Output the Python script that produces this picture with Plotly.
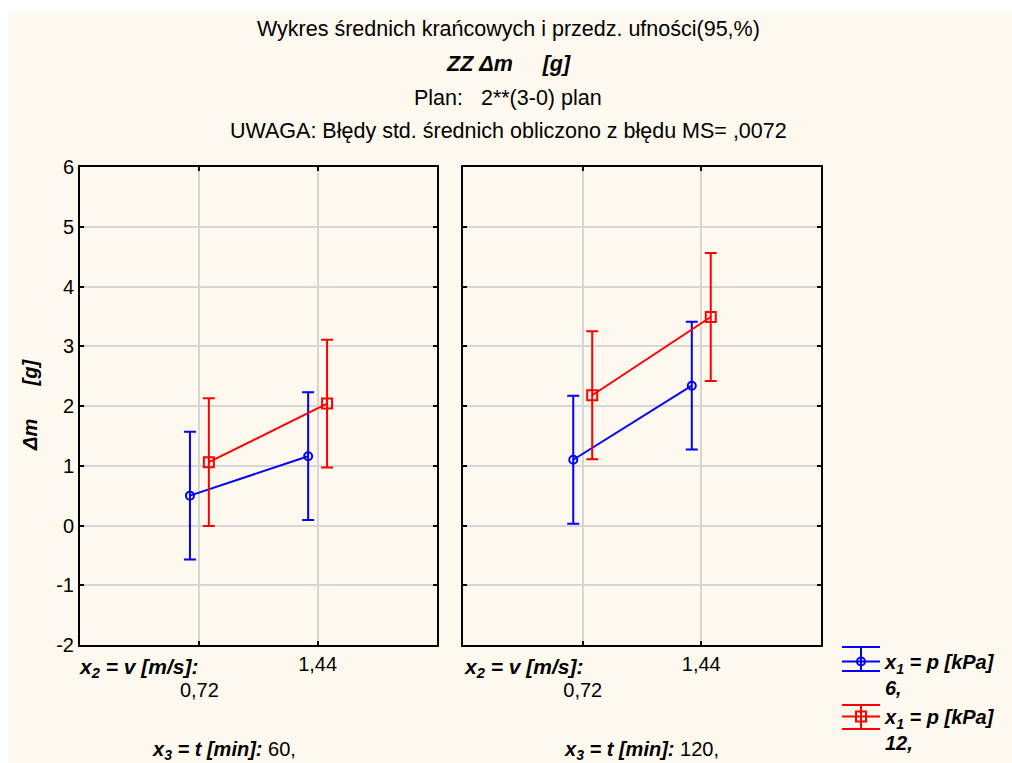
import plotly.graph_objects as go

# =============================================================================
# DATA
# =============================================================================

v_labels = ["0,72", "1,44"]          # x2 = v [m/s]
t_levels = ["60,", "120,"]           # x3 = t [min]
p_levels = ["6,", "12,"]             # x1 = p [kPa]
y_ticks = [-2, -1, 0, 1, 2, 3, 4, 5, 6]

# means of delta m [g] per panel (t = 60 / t = 120)
mean_p6_t60 = [0.50, 1.16]
mean_p12_t60 = [1.06, 2.04]
mean_p6_t120 = [1.10, 2.34]
mean_p12_t120 = [2.18, 3.49]

# half width of 95% confidence interval
ci_p6 = [1.07, 1.07]
ci_p12 = [1.07, 1.07]

# =============================================================================
# LAYOUT HELPERS
# =============================================================================

W, H = 1012, 763
FONT = "Arial, Liberation Sans, sans-serif"
CREAM = "#FEF9EE"
BLUE = "#0000FF"
RED = "#FF0000"
NB = "\u00a0"


def px(x):
    return x / W


def py(y):
    return 1 - y / H


fig = go.Figure()

idx = list(range(len(v_labels)))
dodge = 0.08

panels = [
    ("x", "y", mean_p6_t60, mean_p12_t60, True),
    ("x2", "y2", mean_p6_t120, mean_p12_t120, False),
]
for xa, ya, m6, m12, show in panels:
    fig.add_trace(go.Scatter(
        x=[i - dodge for i in idx], y=m6, xaxis=xa, yaxis=ya,
        mode="lines+markers",
        name="<b><i>x<sub>1</sub> = p [kPa]<br>" + p_levels[0] + "</i></b>",
        line=dict(color=BLUE, width=2),
        marker=dict(symbol="circle-open", size=8, color=BLUE, line=dict(width=2)),
        error_y=dict(type="data", array=ci_p6, color=BLUE, thickness=2, width=6),
        showlegend=show, legendgroup="p6",
    ))
    fig.add_trace(go.Scatter(
        x=[i + dodge for i in idx], y=m12, xaxis=xa, yaxis=ya,
        mode="lines+markers",
        name="<b><i>x<sub>1</sub> = p [kPa]<br>" + p_levels[1] + "</i></b>",
        line=dict(color=RED, width=2),
        marker=dict(symbol="square-open", size=10, color=RED, line=dict(width=2)),
        error_y=dict(type="data", array=ci_p12, color=RED, thickness=2, width=6),
        showlegend=show, legendgroup="p12",
    ))

axis_common = dict(
    showline=True, linecolor="black", linewidth=2, mirror="ticks",
    showgrid=True, gridcolor="#D6D6D6", gridwidth=2,
    ticks="inside", ticklen=4, tickwidth=2, tickcolor="black",
    zeroline=False, automargin=False,
)
xaxis_common = dict(
    axis_common, range=[-1.01, 2.01], tickvals=idx,
    ticktext=["<br>" + v_labels[0], v_labels[1]],
    tickfont=dict(family=FONT, size=20, color="black"),
)
yaxis_common = dict(
    axis_common, range=[-2, 6], tickvals=y_ticks,
    ticktext=[str(v) for v in y_ticks],
    tickfont=dict(family=FONT, size=20, color="black"),
    domain=[py(645), py(167)],
)

fig.update_layout(
    width=W, height=H,
    margin=dict(l=0, r=0, t=0, b=0, autoexpand=False),
    paper_bgcolor="white", plot_bgcolor="white",
    font=dict(family=FONT, size=20, color="black"),
    xaxis=dict(xaxis_common, domain=[px(80), px(437)], anchor="y"),
    xaxis2=dict(xaxis_common, domain=[px(463), px(821)], anchor="y2"),
    yaxis=dict(yaxis_common, anchor="x"),
    yaxis2=dict(yaxis_common, anchor="x2", matches="y", showticklabels=False),
    legend=dict(
        x=px(837), y=py(642), xanchor="left", yanchor="top",
        bgcolor="rgba(0,0,0,0)", valign="top", tracegroupgap=0,
        itemwidth=38,
        font=dict(family=FONT, size=20, color="black"),
    ),
    showlegend=True,
)

# cream backdrop with thin white border at top/left
fig.add_shape(type="rect", xref="paper", yref="paper",
              x0=px(8), x1=1, y0=0, y1=py(11),
              fillcolor=CREAM, line=dict(width=0), layer="below")

# error-bar style legend keys (caps + whisker around the legend line)
for yc, col in [(659, BLUE), (717, RED)]:
    for dy in (-12, 12):
        fig.add_shape(type="line", xref="paper", yref="paper",
                      x0=px(842), x1=px(880), y0=py(yc + dy), y1=py(yc + dy),
                      line=dict(color=col, width=2))
    fig.add_shape(type="line", xref="paper", yref="paper",
                  x0=px(861), x1=px(861), y0=py(yc - 12), y1=py(yc + 12),
                  line=dict(color=col, width=2))

# titles
titles = [
    ("Wykres średnich krańcowych i przedz. ufności(95,%)", 29),
    ("<b><i>ZZ Δm" + NB * 5 + "[g]</i></b>", 64),
    ("Plan:" + NB * 3 + "2**(3-0) plan", 98),
    ("UWAGA: Błędy std. średnich obliczono z błędu MS= ,0072", 131),
]
for text, y in titles:
    fig.add_annotation(text=text, x=px(508), y=py(y), xref="paper", yref="paper",
                       showarrow=False, xanchor="center", yanchor="middle",
                       font=dict(family=FONT, size=21.5, color="black"))

# y axis title
fig.add_annotation(text="<b><i>Δm" + NB * 6 + "[g]</i></b>", x=px(30), y=py(405),
                   xref="paper", yref="paper", showarrow=False, textangle=-90,
                   xanchor="center", yanchor="middle",
                   font=dict(family=FONT, size=20, color="black"))

# factor labels below panels
for x0, xc, t in [(77, 224, t_levels[0]), (462, 641, t_levels[1])]:
    fig.add_annotation(text="<b><i>x<sub>2</sub> = v [m/s]:</i></b>", x=px(x0), y=py(668),
                       xref="paper", yref="paper", showarrow=False,
                       xanchor="left", yanchor="middle",
                       font=dict(family=FONT, size=21, color="black"))
    fig.add_annotation(text="<b><i>x<sub>3</sub> = t [min]:</i></b> " + t, x=px(xc), y=py(750),
                       xref="paper", yref="paper", showarrow=False,
                       xanchor="center", yanchor="middle",
                       font=dict(family=FONT, size=20, color="black"))

fig.write_html("out.html", config={"displayModeBar": False},
               post_script="document.body.style.margin='0';")
